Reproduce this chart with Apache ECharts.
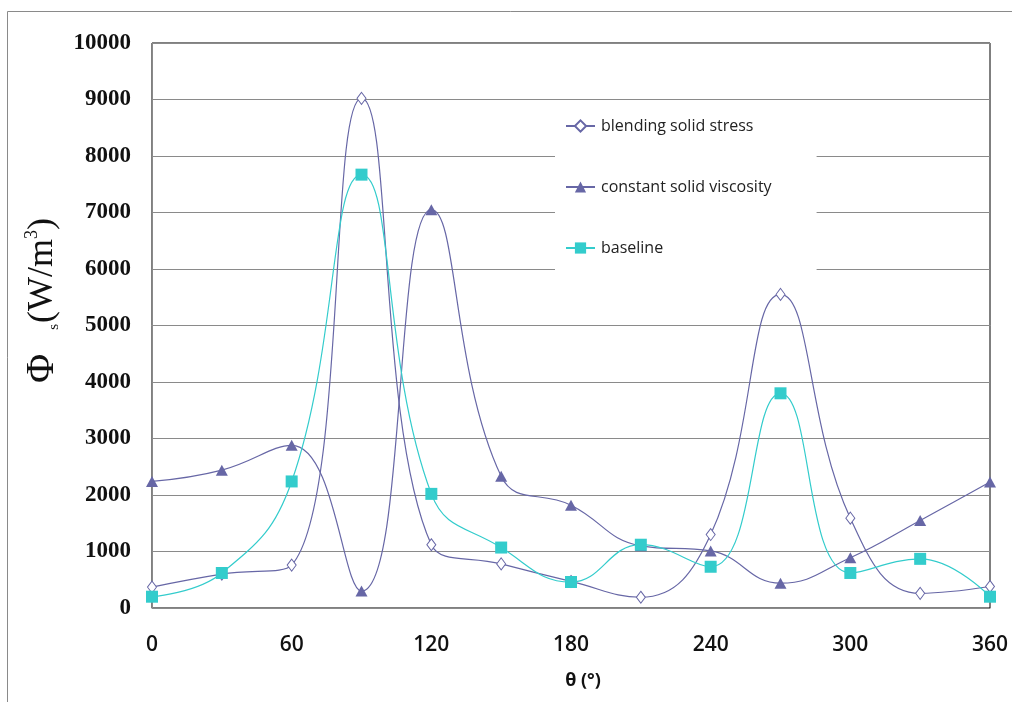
<!DOCTYPE html>
<html>
<head>
<meta charset="utf-8">
<script src="https://cdn.jsdelivr.net/npm/echarts@6/dist/echarts.min.js"></script>
<style>
html,body{margin:0;padding:0;background:#fff;}
#chart{width:1012px;height:702px;}
</style>
</head>
<body>
<div id="chart"></div>
<script>
var angles = [0, 30, 60, 90, 120, 150, 180, 210, 240, 270, 300, 330, 360];
var blendingSolidStress = [370, 600, 760, 9020, 1120, 780, 470, 190, 1300, 5550, 1590, 260, 380];
var constantSolidViscosity = [2240, 2440, 2880, 300, 7050, 2330, 1820, 1100, 1010, 440, 890, 1550, 2230];
var baseline = [200, 620, 2240, 7670, 2020, 1070, 460, 1120, 730, 3800, 620, 870, 200];
var seriesNames = ['blending solid stress', 'constant solid viscosity', 'baseline'];

function pairs(vals) {
  return angles.map(function (a, i) { return [a, vals[i]]; });
}

var purple = '#6767a6';
var cyan = '#33cccc';

var chart = echarts.init(document.getElementById('chart'));
chart.setOption({
  animation: false,
  backgroundColor: '#fff',
  graphic: [{
    type: 'rect',
    shape: { x: 7.5, y: 11.5, width: 1100, height: 800 },
    style: { fill: 'none', stroke: '#8a8a8a', lineWidth: 1 },
    silent: true,
    z: -10
  }],
  grid: {
    left: 152, top: 43, right: 22, bottom: 94,
    show: true, borderColor: '#000', borderWidth: 1, backgroundColor: 'transparent'
  },
  legend: {
    orient: 'vertical',
    left: 555, top: 100,
    width: 260,
    padding: [18, 45, 20, 10],
    itemGap: 45,
    itemWidth: 29, itemHeight: 14,
    backgroundColor: '#fff',
    textStyle: { fontFamily: 'Open Sans', fontSize: 16, color: '#222', padding: [0, 0, 0, 1] },
    data: seriesNames
  },
  xAxis: {
    type: 'value', min: 0, max: 360, interval: 60,
    name: 'θ (°)', nameLocation: 'middle', nameGap: 64,
    nameTextStyle: { fontFamily: 'Open Sans', fontWeight: 'bold', fontSize: 18, color: '#111', padding: [0, 0, 0, 24] },
    axisLine: { show: true, lineStyle: { color: '#8a8a8a', width: 1 } },
    axisTick: { show: false },
    splitLine: { show: false },
    axisLabel: { fontFamily: 'Open Sans', fontWeight: 600, fontSize: 21, color: '#111', margin: 27 }
  },
  yAxis: {
    type: 'value', min: 0, max: 10000, interval: 1000,
    name: '{phi|Φ}{sub|s}{a|(W/m}{sup|3}{a|)}',
    nameLocation: 'middle', nameRotate: 90, nameGap: 77,
    nameTextStyle: {
      padding: [0, 0, 0, 50],
      rich: {
        phi: { fontFamily: 'Liberation Serif', fontSize: 40, color: '#111' },
        a: { fontFamily: 'Liberation Serif', fontSize: 36, color: '#111' },
        sub: { fontFamily: 'Liberation Serif', fontSize: 15, color: '#111', padding: [22, 1, 0, 24] },
        sup: { fontFamily: 'Liberation Serif', fontSize: 18, color: '#111', padding: [0, 0, 20, 0] }
      }
    },
    axisLine: { show: true, lineStyle: { color: '#8a8a8a', width: 1 } },
    axisTick: { show: false },
    splitLine: { show: true, lineStyle: { color: '#8a8a8a', width: 1 } },
    axisLabel: {
      fontFamily: 'Liberation Serif', fontWeight: 'bold', fontSize: 23, color: '#111', margin: 21,
      formatter: function (v) { return String(v); }
    }
  },
  series: [
    {
      name: seriesNames[0], type: 'line', smooth: 0.45,
      data: pairs(blendingSolidStress),
      symbol: 'diamond', symbolSize: [9, 12],
      lineStyle: { color: purple, width: 1.2 },
      itemStyle: { color: '#fff', borderColor: purple, borderWidth: 1 },
      z: 3
    },
    {
      name: seriesNames[1], type: 'line', smooth: 0.45,
      data: pairs(constantSolidViscosity),
      symbol: 'triangle', symbolSize: [12, 11],
      lineStyle: { color: purple, width: 1.2 },
      itemStyle: { color: purple },
      z: 4
    },
    {
      name: seriesNames[2], type: 'line', smooth: 0.45,
      data: pairs(baseline),
      symbol: 'rect', symbolSize: 12,
      lineStyle: { color: cyan, width: 1.2 },
      itemStyle: { color: cyan },
      z: 5
    }
  ]
});
</script>
</body>
</html>
